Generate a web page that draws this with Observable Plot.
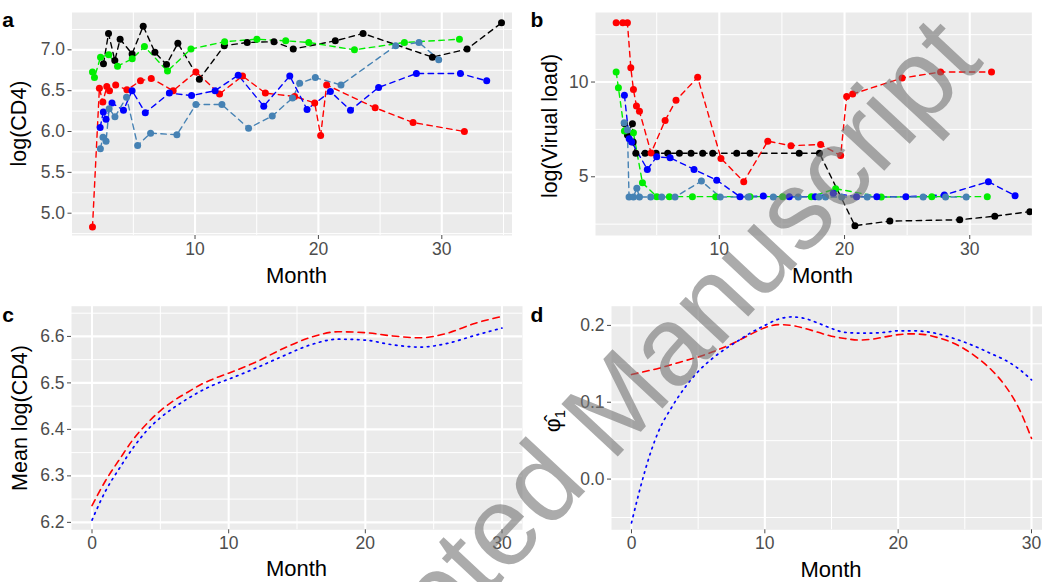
<!DOCTYPE html>
<html><head><meta charset="utf-8">
<script src="https://cdn.jsdelivr.net/npm/d3@7"></script>
<script src="https://cdn.jsdelivr.net/npm/@observablehq/plot@0.6"></script>
<style>
html,body{margin:0;padding:0;background:#fff;overflow:hidden}
#fig{position:relative;width:1042px;height:582px;overflow:hidden;font-family:"Liberation Sans",Arial,Helvetica,sans-serif}
.pn{position:absolute;overflow:hidden}
.pn svg{max-width:none !important}
#wm{position:absolute;left:85px;top:380px;width:1000px;height:112px;line-height:112px;text-align:center;font-size:112px;
 transform:rotate(-47deg);transform-origin:50% 50%;white-space:nowrap;color:rgba(115,115,115,0.6);pointer-events:none}
</style></head><body><div id="fig"></div>
<script>
// ---------- colours ----------
const RED = "#FF0000", BLACK = "#000000", GREEN = "#00EE00", BLUE = "#0000FF", STEEL = "#4682B4";

// ---------- panel a : log(CD4) per patient ----------
const aRedMonth   = [1.69, 2.25, 2.53, 2.85, 3.07, 3.57, 4.48, 5.58, 6.45, 8.23, 10.07, 11.99, 13.85, 15.7, 18.07, 19.7, 20.18, 20.67, 24.6, 27.67, 31.83];
const aRedCD4     = [4.83, 6.53, 6.36, 6.55, 6.50, 6.57, 6.51, 6.62, 6.65, 6.50, 6.73, 6.46, 6.68, 6.47, 6.43, 6.35, 5.95, 6.57, 6.29, 6.11, 6.00];
const aBlackMonth = [2.58, 2.99, 3.5, 3.93, 4.9, 5.8, 6.75, 7.69, 8.61, 10.35, 12.37, 14.23, 16.4, 17.96, 21.37, 23.62, 29.24, 32.05, 34.84];
const aBlackCD4   = [6.83, 7.20, 6.87, 7.13, 6.95, 7.29, 6.97, 6.82, 7.08, 6.64, 7.05, 7.09, 7.10, 7.01, 7.11, 7.20, 6.91, 7.01, 7.33];
const aGreenMonth = [1.69, 1.85, 2.34, 3.01, 3.72, 4.91, 5.9, 7.77, 9.67, 12.4, 15.02, 17.35, 19.22, 22.92, 26.97, 31.43];
const aGreenCD4   = [6.73, 6.66, 6.91, 6.94, 6.80, 6.89, 7.04, 6.74, 7.01, 7.10, 7.13, 7.11, 7.09, 7.00, 7.09, 7.13];
const aBlueMonth  = [2.31, 2.57, 2.79, 3.27, 4.2, 4.9, 5.97, 7.92, 9.72, 11.63, 13.5, 15.57, 17.68, 19.08, 20.97, 22.6, 24.88, 27.94, 31.51, 33.64];
const aBlueCD4    = [6.05, 6.24, 6.15, 6.35, 6.26, 6.50, 6.23, 6.47, 6.44, 6.50, 6.69, 6.31, 6.68, 6.27, 6.49, 6.26, 6.54, 6.71, 6.71, 6.62];
const aSteelMonth = [2.33, 2.54, 2.79, 3.04, 3.51, 4.45, 5.35, 6.4, 8.53, 10.07, 12.18, 14.34, 16.26, 17.9, 18.48, 19.75, 21.83, 26.26, 28.15, 29.75];
const aSteelCD4   = [5.79, 5.93, 5.88, 6.28, 6.18, 6.42, 5.83, 5.98, 5.96, 6.33, 6.33, 6.04, 6.19, 6.41, 6.59, 6.66, 6.57, 7.05, 7.09, 6.88];

// ---------- panel b : log(viral load) per patient ----------
const bRedMonth   = [1.76, 2.29, 2.66, 2.93, 3.14, 3.38, 3.62, 4.55, 5.67, 6.54, 8.27, 10.13, 11.95, 13.87, 15.72, 18.09, 19.69, 20.17, 20.65, 24.6, 27.67, 31.74];
const bRedVL      = [13.13, 13.13, 13.13, 10.76, 9.6, 8.74, 8.46, 6.26, 7.97, 9.04, 10.25, 5.97, 4.74, 6.88, 6.64, 6.70, 6.12, 9.23, 9.37, 10.21, 10.53, 10.53];
const bBlackMonth = [2.42, 2.66, 3.06, 3.12, 3.33, 4.07, 4.95, 5.88, 6.81, 7.74, 8.67, 9.47, 11.39, 12.45, 16.38, 18.0, 20.83, 23.62, 29.2, 32.0, 34.8];
const bBlackVL    = [7.81, 7.2, 7.8, 6.84, 6.24, 6.24, 6.24, 6.24, 6.24, 6.24, 6.24, 6.24, 6.24, 6.24, 6.24, 6.24, 2.42, 2.66, 2.73, 2.92, 3.16];
const bGreenMonth = [1.76, 1.94, 2.42, 3.14, 3.86, 5.0, 6.01, 7.85, 9.71, 12.45, 15.06, 17.35, 19.29, 22.93, 26.97, 31.4];
const bGreenVL    = [10.53, 9.7, 7.41, 7.32, 4.68, 3.95, 3.95, 3.95, 3.95, 3.95, 3.95, 3.95, 4.37, 3.93, 3.95, 3.95];
const bBlueMonth  = [2.42, 2.8, 3.0, 4.25, 5.0, 6.07, 7.98, 9.79, 11.65, 13.51, 15.59, 17.66, 19.1, 20.96, 22.58, 24.9, 27.97, 31.49, 33.62];
const bBlueVL     = [9.3, 7.0, 6.84, 5.39, 6.05, 6.0, 5.39, 4.82, 3.95, 3.98, 3.95, 3.95, 4.13, 3.95, 3.95, 3.95, 4.04, 4.74, 4.0];
const bSteelMonth = [2.4, 2.66, 2.79, 3.14, 3.41, 3.62, 4.52, 5.4, 6.46, 8.57, 10.07, 12.31, 14.31, 16.3, 17.95, 18.48, 19.77, 21.81, 26.28, 28.07, 29.72];
const bSteelVL    = [7.85, 7.47, 3.93, 3.93, 4.4, 3.93, 3.93, 3.93, 3.93, 4.77, 3.93, 3.93, 3.93, 3.93, 3.93, 3.93, 3.93, 3.93, 3.93, 3.93, 3.93];

// ---------- panel c : mean log(CD4) ----------
const cMonth = [0, 1, 2, 3, 4, 5, 6, 7, 8, 9, 10, 12, 14, 16, 18, 20, 22, 24, 26, 28, 30];
const cRed   = [6.236, 6.29, 6.335, 6.378, 6.412, 6.44, 6.462, 6.48, 6.497, 6.51, 6.521, 6.545, 6.574, 6.598, 6.61, 6.608, 6.601, 6.597, 6.607, 6.628, 6.643];
const cBlue  = [6.205, 6.268, 6.316, 6.36, 6.397, 6.425, 6.447, 6.466, 6.483, 6.497, 6.508, 6.532, 6.558, 6.582, 6.594, 6.592, 6.582, 6.577, 6.585, 6.602, 6.618];

// ---------- panel d : phi-hat 1 ----------
const dMonth = [0, 0.5, 1, 1.5, 2, 3, 4, 5, 6, 7, 8, 9, 10, 11, 12, 13, 14, 15, 16, 17, 18, 19, 20, 21, 22, 23, 24, 25, 26, 27, 28, 29, 30];
const dRed   = [0.136, 0.138, 0.140, 0.142, 0.144, 0.149, 0.154, 0.159, 0.165, 0.172, 0.180, 0.189, 0.197, 0.201, 0.200, 0.196, 0.191, 0.186, 0.183, 0.181, 0.182, 0.185, 0.188, 0.189, 0.188, 0.184, 0.178, 0.169, 0.157, 0.142, 0.122, 0.094, 0.053];
const dBlue  = [-0.057, -0.022, 0.010, 0.038, 0.061, 0.093, 0.119, 0.140, 0.156, 0.169, 0.180, 0.191, 0.200, 0.208, 0.211, 0.209, 0.203, 0.196, 0.191, 0.190, 0.190, 0.191, 0.193, 0.193, 0.192, 0.189, 0.184, 0.178, 0.171, 0.163, 0.155, 0.144, 0.129];

// ---------- ticks ----------
const abXTicks = [10, 20, 30], abXMinor = [5, 15, 25, 35];
const cdXTicks = [0, 10, 20, 30], cdXMinor = [5, 15, 25];
const aYTicks = [5.0, 5.5, 6.0, 6.5, 7.0], aYMinor = [4.75, 5.25, 5.75, 6.25, 6.75, 7.25];
const bYTicks = [5, 10], bYMinor = [2.5, 7.5, 12.5];
const cYTicks = [6.2, 6.3, 6.4, 6.5, 6.6], cYMinor = [6.25, 6.35, 6.45, 6.55, 6.65];
const dYTicks = [0.0, 0.1, 0.2], dYMinor = [-0.05, 0.05, 0.15];

const FONT = '"Liberation Sans", Arial, Helvetica, sans-serif';
const rows = (ms, vs) => ms.map((m, i) => ({month: m, value: vs[i]}));

function seriesMarks(list) {
  const out = [];
  for (const [ms, vs, col] of list) {
    out.push(Plot.line(rows(ms, vs), {x: "month", y: "value", stroke: col, strokeWidth: 1.4, strokeDasharray: "5.5,4.5"}));
  }
  for (const [ms, vs, col] of list) {
    out.push(Plot.dot(rows(ms, vs), {x: "month", y: "value", fill: col, r: 3.5}));
  }
  return out;
}

function curveMarks(ms, red, blue) {
  return [
    Plot.line(rows(ms, red), {x: "month", y: "value", stroke: RED, strokeWidth: 1.6, strokeDasharray: "6.5,5", curve: "monotone-x"}),
    Plot.line(rows(ms, blue), {x: "month", y: "value", stroke: BLUE, strokeWidth: 1.7, strokeDasharray: "1.6,4.8", curve: "monotone-x"})
  ];
}

const fig = document.getElementById("fig");

function panel(cfg) {
  const chart = Plot.plot({
    width: cfg.width, height: 291,
    marginLeft: cfg.mL, marginRight: cfg.mR, marginTop: cfg.mT, marginBottom: cfg.mB,
    style: {fontFamily: FONT, background: "transparent", overflow: "visible"},
    x: {domain: cfg.xDom},
    y: {domain: cfg.yDom},
    marks: [
      Plot.frame({fill: "#EBEBEB", stroke: "none"}),
      Plot.ruleX(cfg.xMinor, {stroke: "white", strokeWidth: 1}),
      Plot.ruleY(cfg.yMinor, {stroke: "white", strokeWidth: 1}),
      Plot.ruleX(cfg.xTicks, {stroke: "white", strokeWidth: 2.1}),
      Plot.ruleY(cfg.yTicks, {stroke: "white", strokeWidth: 2.1}),
      Plot.axisX(cfg.xTicks, {tickSize: 4, tickPadding: 3, fontSize: 17.5, color: "#4D4D4D", label: null, tickFormat: d => String(d)}),
      Plot.axisY(cfg.yTicks, {tickSize: 4, tickPadding: 3, fontSize: 17.5, color: "#4D4D4D", label: null, tickFormat: cfg.yFmt}),
      ...cfg.marks
    ]
  });
  chart.style.maxWidth = "none";
  chart.style.width = cfg.width + "px";
  chart.style.height = "291px";
  const svg = d3.select(chart);
  svg.append("text").attr("x", cfg.monthX).attr("y", cfg.monthY).attr("text-anchor", "middle")
    .attr("font-size", 22).attr("font-family", FONT).attr("fill", "#000").text("Month");
  const yt = svg.append("text").attr("transform", `translate(${cfg.ytX},${cfg.ytY}) rotate(-90)`)
    .attr("text-anchor", "middle").attr("font-size", 21.5).attr("font-family", FONT).attr("fill", "#000");
  if (cfg.yTitle === "phi") {
    yt.append("tspan").text("\u03C6\u0302");
    yt.append("tspan").attr("font-size", 15).attr("dy", 5).text("1");
  } else yt.text(cfg.yTitle);
  svg.append("text").attr("x", cfg.tagX).attr("y", cfg.tagY).attr("font-size", 21).attr("font-weight", "bold")
    .attr("font-family", FONT).attr("fill", "#000").text(cfg.tag);
  const box = document.createElement("div");
  box.className = "pn";
  box.style.left = cfg.left + "px"; box.style.top = cfg.top + "px";
  box.style.width = cfg.clipW + "px"; box.style.height = "291px";
  box.appendChild(chart);
  fig.appendChild(box);
}

panel({left: 0, top: 0, clipW: 512, width: 522, mL: 71.5, mR: 0.5, mT: 12, mB: 56,
  xDom: [0.03, 36.5], yDom: [4.727, 7.457], xTicks: abXTicks, xMinor: abXMinor, yTicks: aYTicks, yMinor: aYMinor,
  yFmt: d3.format(".1f"), monthX: 296.5, monthY: 283, ytX: 26, ytY: 123.5, yTitle: "log(CD4)", tag: "a", tagX: 8, tagY: 27.3,
  marks: seriesMarks([[aBlackMonth, aBlackCD4, BLACK], [aGreenMonth, aGreenCD4, GREEN], [aRedMonth, aRedCD4, RED],
                      [aBlueMonth, aBlueCD4, BLUE], [aSteelMonth, aSteelCD4, STEEL]])});

panel({left: 521, top: 0, clipW: 511, width: 529, mL: 74, mR: 0, mT: 12, mB: 56,
  xDom: [0.11, 36.45], yDom: [1.9, 13.67], xTicks: abXTicks, xMinor: abXMinor, yTicks: bYTicks, yMinor: bYMinor,
  yFmt: d => String(d), monthX: 301.5, monthY: 283, ytX: 36, ytY: 126, yTitle: "log(Virual load)", tag: "b", tagX: 16, tagY: 27.3,
  marks: seriesMarks([[bBlackMonth, bBlackVL, BLACK], [bRedMonth, bRedVL, RED], [bGreenMonth, bGreenVL, GREEN],
                      [bBlueMonth, bBlueVL, BLUE], [bSteelMonth, bSteelVL, STEEL]])});

panel({left: 0, top: 291, clipW: 530, width: 530, mL: 71, mR: 8, mT: 14.7, mB: 52.7,
  xDom: [-1.5, 31.5], yDom: [6.184, 6.665], xTicks: cdXTicks, xMinor: cdXMinor, yTicks: cYTicks, yMinor: cYMinor,
  yFmt: d3.format(".1f"), monthX: 296.5, monthY: 285, ytX: 27, ytY: 127, yTitle: "Mean log(CD4)", tag: "c", tagX: 8, tagY: 31.3,
  marks: curveMarks(cMonth, cRed, cBlue)});

panel({left: 530, top: 291, clipW: 512, width: 521, mL: 81, mR: 0, mT: 14.7, mB: 52.7,
  xDom: [-1.5, 31.5], yDom: [-0.066, 0.225], xTicks: cdXTicks, xMinor: cdXMinor, yTicks: dYTicks, yMinor: dYMinor,
  yFmt: d3.format(".1f"), monthX: 301, monthY: 286, ytX: 30, ytY: 130, yTitle: "phi", tag: "d", tagX: 7, tagY: 31.3,
  marks: curveMarks(dMonth, dRed, dBlue)});

const wm = document.createElement("div");
wm.id = "wm"; wm.textContent = "Accepted Manuscript";
fig.appendChild(wm);
</script></body></html>
